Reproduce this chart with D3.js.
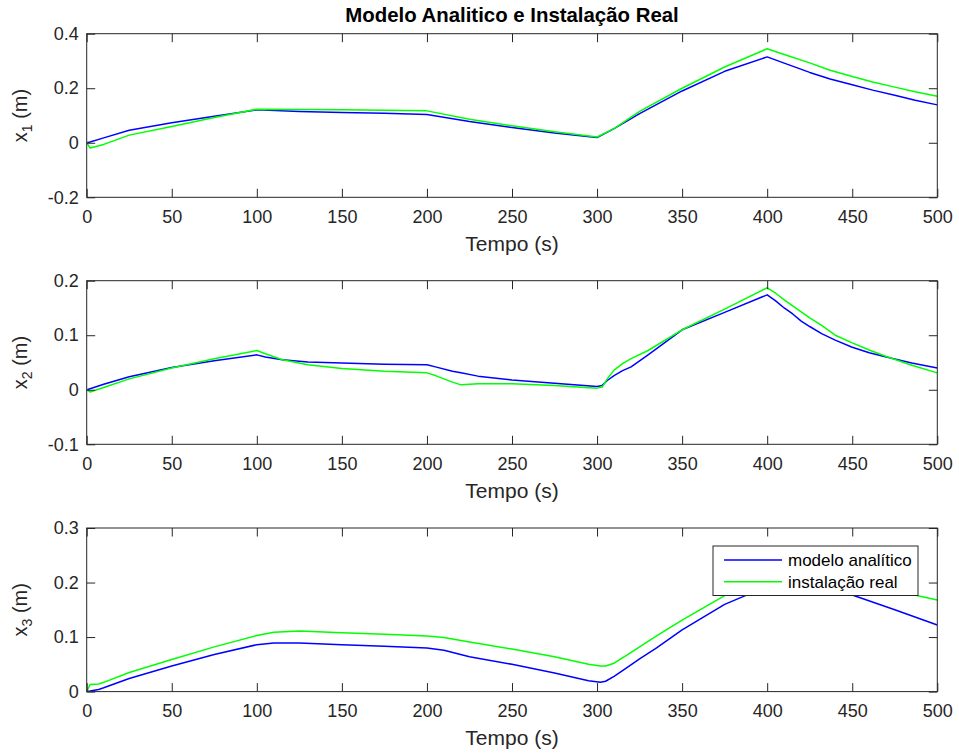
<!DOCTYPE html>
<html>
<head>
<meta charset="utf-8">
<script src="https://cdn.jsdelivr.net/npm/d3@7"></script>
<style>
  body { margin: 0; background: #fff; }
  svg { display: block; font-family: "Liberation Sans", Arial, sans-serif; }
</style>
</head>
<body>
<svg id="chart" width="959" height="753"></svg>
<script>
// ---------------------------------
// data
// ---------------------------------

var xTicks = [0, 50, 100, 150, 200, 250, 300, 350, 400, 450, 500];
var seriesNames = ['modelo analítico', 'instalação real'];

// x1
var t1 = [0, 2, 10, 25, 50, 75, 100, 125, 150, 175, 200, 225, 250, 275, 300, 310, 325, 350, 375, 400, 410, 425, 437, 450, 462, 475, 487, 500];
var x1Model = [0, 0.003, 0.018, 0.046, 0.073, 0.097, 0.121, 0.115, 0.111, 0.108, 0.104, 0.078, 0.056, 0.036, 0.019, 0.052, 0.107, 0.19, 0.262, 0.315, 0.292, 0.258, 0.234, 0.213, 0.193, 0.174, 0.156, 0.139];
var x1Real = [0, -0.019, -0.006, 0.028, 0.06, 0.093, 0.123, 0.122, 0.121, 0.119, 0.117, 0.086, 0.062, 0.04, 0.021, 0.052, 0.115, 0.2, 0.278, 0.345, 0.324, 0.293, 0.266, 0.243, 0.223, 0.204, 0.187, 0.171];
var y1Ticks = [-0.2, 0, 0.2, 0.4];

// x2
var t2 = [0, 2, 10, 25, 50, 75, 100, 105, 115, 130, 150, 175, 200, 205, 215, 220, 230, 250, 275, 300, 303, 306, 310, 315, 320, 330, 350, 375, 400, 405, 410, 415, 420, 425, 432, 440, 450, 460, 470, 485, 500];
var x2Model = [0, 0.002, 0.01, 0.024, 0.041, 0.053, 0.064, 0.06, 0.055, 0.051, 0.049, 0.047, 0.046, 0.042, 0.034, 0.031, 0.025, 0.018, 0.012, 0.006, 0.008, 0.017, 0.026, 0.035, 0.042, 0.064, 0.11, 0.142, 0.174, 0.163, 0.15, 0.139, 0.126, 0.116, 0.103, 0.091, 0.078, 0.068, 0.06, 0.049, 0.04];
var x2Real = [0, -0.004, 0.004, 0.02, 0.04, 0.057, 0.072, 0.066, 0.055, 0.046, 0.039, 0.034, 0.031, 0.026, 0.014, 0.009, 0.011, 0.011, 0.008, 0.003, 0.005, 0.02, 0.036, 0.048, 0.057, 0.072, 0.11, 0.148, 0.187, 0.177, 0.165, 0.154, 0.143, 0.132, 0.118, 0.1, 0.086, 0.073, 0.061, 0.045, 0.031];
var y2Ticks = [-0.1, 0, 0.1, 0.2];

// x3
var t3 = [0, 2, 7, 10, 25, 50, 75, 100, 110, 125, 150, 175, 200, 210, 225, 250, 275, 295, 302, 305, 310, 318, 325, 335, 350, 375, 400, 410, 425, 450, 475, 500];
var x3Model = [0, 0.001, 0.004, 0.007, 0.024, 0.047, 0.068, 0.086, 0.089, 0.089, 0.086, 0.083, 0.08, 0.076, 0.064, 0.05, 0.034, 0.02, 0.017, 0.019, 0.028, 0.045, 0.06, 0.08, 0.113, 0.16, 0.193, 0.195, 0.192, 0.177, 0.15, 0.122];
var x3Real = [0, 0.013, 0.014, 0.017, 0.035, 0.059, 0.082, 0.103, 0.109, 0.111, 0.108, 0.105, 0.102, 0.099, 0.091, 0.078, 0.064, 0.05, 0.047, 0.047, 0.052, 0.068, 0.082, 0.102, 0.131, 0.176, 0.215, 0.218, 0.215, 0.205, 0.185, 0.168];
var y3Ticks = [0, 0.1, 0.2, 0.3];

var panels = [
  { t: t1, model: x1Model, real: x1Real, domain: [-0.2, 0.4], ticks: y1Ticks, sub: '1', top: 33.7 },
  { t: t2, model: x2Model, real: x2Real, domain: [-0.1, 0.2], ticks: y2Ticks, sub: '2', top: 280.7 },
  { t: t3, model: x3Model, real: x3Real, domain: [0, 0.3], ticks: y3Ticks, sub: '3', top: 528, legend: true }
];

var colors = ['#0000ff', '#00ff00'];
var axisColor = '#262626';
var left = 86.7, right = 937.3, plotH = 163.6;
var tickLen = 8.5;

var svg = d3.select('#chart');

// title
svg.append('text')
  .attr('x', (left + right) / 2)
  .attr('y', 21.5)
  .attr('text-anchor', 'middle')
  .attr('font-size', '20.4px')
  .attr('font-weight', 'bold')
  .attr('fill', '#000')
  .text('Modelo Analitico e Instalação Real');

var fmt = function (d) { return String(+d.toFixed(2)); };

panels.forEach(function (p, i) {
  var x = d3.scaleLinear().domain([0, 500]).range([left, right]);
  var y = d3.scaleLinear().domain(p.domain).range([p.top + plotH, p.top]);

  var g = svg.append('g').attr('class', 'panel');

  g.append('clipPath').attr('id', 'clip' + i)
    .append('rect')
    .attr('x', left).attr('y', p.top)
    .attr('width', right - left).attr('height', plotH);

  // lines
  var line = d3.line()
    .x(function (d) { return x(d[0]); })
    .y(function (d) { return y(d[1]); });

  [p.model, p.real].forEach(function (vals, k) {
    g.append('path')
      .datum(p.t.map(function (tt, j) { return [tt, vals[j]]; }))
      .attr('clip-path', 'url(#clip' + i + ')')
      .attr('fill', 'none')
      .attr('stroke', colors[k])
      .attr('stroke-width', 1.5)
      .attr('stroke-linejoin', 'round')
      .attr('d', line);
  });

  // axes, ticks pointing inward on all four sides
  var styleAxis = function (sel) {
    sel.select('.domain').remove();
    sel.selectAll('line').attr('stroke', axisColor);
    sel.selectAll('text').attr('fill', axisColor).attr('font-size', '18px');
  };

  g.append('g')
    .attr('transform', 'translate(0,' + (p.top + plotH) + ')')
    .call(d3.axisBottom(x).tickValues(xTicks).tickSize(-tickLen).tickPadding(13).tickFormat(fmt))
    .attr('font-family', null)
    .call(styleAxis);
  g.append('g')
    .attr('transform', 'translate(0,' + p.top + ')')
    .call(d3.axisTop(x).tickValues(xTicks).tickSize(-tickLen).tickFormat(''))
    .call(styleAxis);
  g.append('g')
    .attr('transform', 'translate(' + left + ',0)')
    .call(d3.axisLeft(y).tickValues(p.ticks).tickSize(-tickLen).tickPadding(8).tickFormat(fmt))
    .attr('font-family', null)
    .call(styleAxis);
  g.append('g')
    .attr('transform', 'translate(' + right + ',0)')
    .call(d3.axisRight(y).tickValues(p.ticks).tickSize(-tickLen).tickFormat(''))
    .call(styleAxis);

  // box
  g.append('rect')
    .attr('x', left).attr('y', p.top)
    .attr('width', right - left).attr('height', plotH)
    .attr('fill', 'none')
    .attr('stroke', axisColor)
    .attr('stroke-width', 1);

  // x label
  g.append('text')
    .attr('x', (left + right) / 2)
    .attr('y', p.top + plotH + 53.5)
    .attr('text-anchor', 'middle')
    .attr('font-size', '21px')
    .attr('fill', axisColor)
    .text('Tempo (s)');

  // y label with subscript
  var yl = g.append('text')
    .attr('transform', 'translate(27,' + (p.top + plotH / 2) + ') rotate(-90)')
    .attr('text-anchor', 'middle')
    .attr('font-size', '20px')
    .attr('fill', axisColor);
  yl.append('tspan').text('x');
  yl.append('tspan').attr('font-size', '14px').attr('dy', 5).text(p.sub);
  yl.append('tspan').attr('dy', -5).text(' (m)');

  // legend
  if (p.legend) {
    var lg = g.append('g').attr('class', 'legend');
    lg.append('rect')
      .attr('x', 713).attr('y', 546)
      .attr('width', 205).attr('height', 49.5)
      .attr('fill', '#fff')
      .attr('stroke', axisColor)
      .attr('stroke-width', 1);
    seriesNames.forEach(function (name, k) {
      var cy = 560 + k * 21.7;
      lg.append('line')
        .attr('x1', 724).attr('x2', 782)
        .attr('y1', cy).attr('y2', cy)
        .attr('stroke', colors[k])
        .attr('stroke-width', 1.5);
      lg.append('text')
        .attr('x', 788)
        .attr('y', cy)
        .attr('dy', '0.35em')
        .attr('font-size', '17px')
        .attr('fill', '#000')
        .text(name);
    });
  }
});
</script>
</body>
</html>
